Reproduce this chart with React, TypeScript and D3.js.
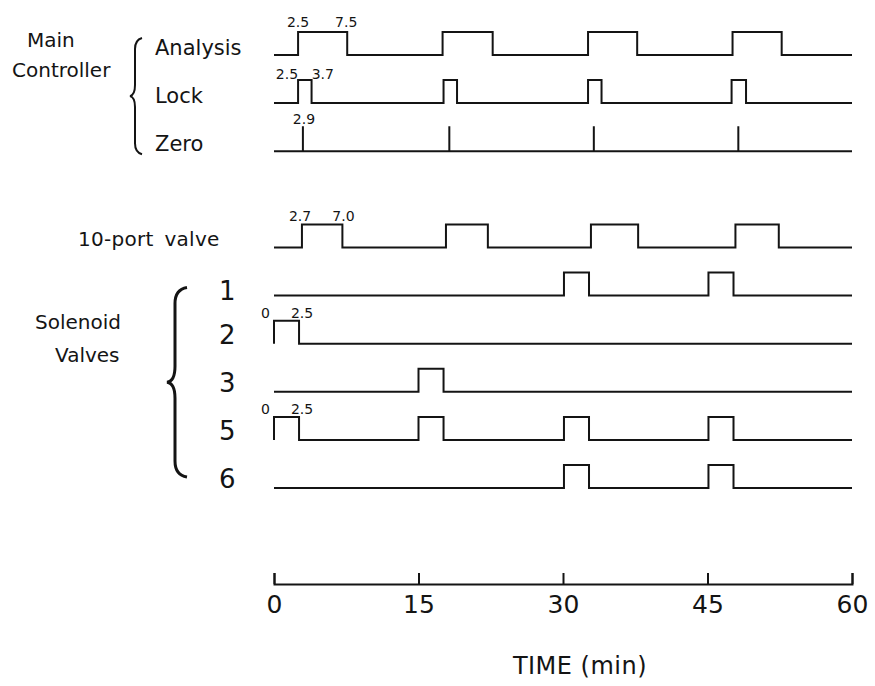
import React, { useEffect, useRef } from "react";
import * as d3 from "d3";

// rows of the timing diagram, top to bottom ("" is the empty gap row)
const rowNames = ["Analysis", "Lock", "Zero", "", "10-port valve", "1", "2", "3", "5", "6"];

// pulse windows (min)
const analysisPulses = [[2.5, 7.6], [17.5, 22.7], [32.6, 37.7], [47.6, 52.7]];
const lockPulses = [[2.5, 3.9], [17.6, 19.0], [32.6, 34.0], [47.5, 49.0]];
const zeroSpikes = [3.0, 18.2, 33.2, 48.2];
const valvePulses = [[2.9, 7.1], [17.85, 22.2], [32.9, 37.8], [47.9, 52.4]];
const sol1Pulses = [[30.1, 32.7], [45.1, 47.7]];
const sol2Pulses = [[0, 2.6]];
const sol3Pulses = [[15, 17.6]];
const sol5Pulses = [[0, 2.6], [15, 17.6], [30.1, 32.7], [45.1, 47.7]];
const sol6Pulses = [[30.1, 32.7], [45.1, 47.7]];

// small time annotations written above the first pulses
const analysisMarks = [{ t: 2.5, text: "2.5" }, { t: 7.5, text: "7.5" }];
const lockMarks = [{ t: 2.5, text: "2.5" }, { t: 3.7, text: "3.7" }];
const zeroMarks = [{ t: 2.9, text: "2.9" }];
const valveMarks = [{ t: 2.7, text: "2.7" }, { t: 7.0, text: "7.0" }];
const sol2Marks = [{ t: 0, text: "0" }, { t: 2.5, text: "2.5" }];
const sol5Marks = [{ t: 0, text: "0" }, { t: 2.5, text: "2.5" }];

const timeTicks = [0, 15, 30, 45, 60];

const FONT = "'DejaVu Sans', sans-serif";
const INK = "#141414";

const App = () => {
  const ref = useRef<SVGSVGElement>(null);

  useEffect(() => {
    const svg = d3.select(ref.current);
    svg.selectAll("*").remove();

    const x = d3.scaleLinear().domain([0, 60]).range([274, 852]);
    const y = d3.scalePoint().domain(rowNames).range([55, 488]);
    const pulseH = 23;

    const pulsePath = (pulses: number[][], base: number) => {
      const p = d3.path();
      p.moveTo(x(0), base);
      pulses.forEach(([a, b]) => {
        p.lineTo(x(a), base);
        p.lineTo(x(a), base - pulseH);
        p.lineTo(x(b), base - pulseH);
        p.lineTo(x(b), base);
      });
      p.lineTo(x(60), base);
      return p.toString();
    };

    const spikePath = (spikes: number[], base: number) => {
      const p = d3.path();
      p.moveTo(x(0), base);
      spikes.forEach((s) => {
        p.lineTo(x(s), base);
        p.lineTo(x(s), base - 25);
        p.lineTo(x(s), base);
      });
      p.lineTo(x(60), base);
      return p.toString();
    };

    const signals: [string, number[][]][] = [
      ["Analysis", analysisPulses],
      ["Lock", lockPulses],
      ["10-port valve", valvePulses],
      ["1", sol1Pulses],
      ["2", sol2Pulses],
      ["3", sol3Pulses],
      ["5", sol5Pulses],
      ["6", sol6Pulses],
    ];

    const g = svg.append("g");

    g.selectAll(".signal")
      .data(signals)
      .join("path")
      .attr("class", "signal")
      .attr("d", ([name, pulses]) => pulsePath(pulses, y(name)!))
      .attr("fill", "none")
      .attr("stroke", INK)
      .attr("stroke-width", 2)
      .attr("stroke-linejoin", "miter");

    g.append("path")
      .attr("d", spikePath(zeroSpikes, y("Zero")!))
      .attr("fill", "none")
      .attr("stroke", INK)
      .attr("stroke-width", 2);

    // row labels
    const textRows = ["Analysis", "Lock", "Zero"];
    g.selectAll(".rowlabel")
      .data(textRows)
      .join("text")
      .attr("class", "rowlabel")
      .attr("x", 155)
      .attr("y", (d) => y(d)!)
      .attr("font-size", 21)
      .text((d) => d);

    g.append("text")
      .attr("x", 78)
      .attr("y", y("10-port valve")! - 1)
      .attr("font-size", 20)
      .attr("letter-spacing", 0.3)
      .attr("word-spacing", 4)
      .text("10-port valve");

    const numRows = ["1", "2", "3", "5", "6"];
    g.selectAll(".numlabel")
      .data(numRows)
      .join("text")
      .attr("class", "numlabel")
      .attr("x", 219)
      .attr("y", (d) => y(d)! + (d === "1" ? 4 : 0))
      .attr("font-size", 26)
      .text((d) => d);

    // group labels
    g.append("text").attr("x", 27).attr("y", 47).attr("font-size", 20).text("Main");
    g.append("text").attr("x", 12).attr("y", 77).attr("font-size", 20).text("Controller");
    g.append("text").attr("x", 35).attr("y", 329).attr("font-size", 20).text("Solenoid");
    g.append("text").attr("x", 55).attr("y", 362).attr("font-size", 20).text("Valves");

    // braces
    const brace = (tipX: number, spineX: number, endX: number, y0: number, y1: number, r: number) => {
      const ym = (y0 + y1) / 2;
      const p = d3.path();
      p.moveTo(endX, y0);
      p.quadraticCurveTo(spineX, y0 + 2, spineX, y0 + r);
      p.lineTo(spineX, ym - r);
      p.quadraticCurveTo(spineX, ym - 1, tipX, ym);
      p.quadraticCurveTo(spineX, ym + 1, spineX, ym + r);
      p.lineTo(spineX, y1 - r);
      p.quadraticCurveTo(spineX, y1 - 2, endX, y1);
      return p.toString();
    };
    g.append("path")
      .attr("d", brace(130, 135, 142, y("Analysis")! - 17, y("Zero")! + 3, 11))
      .attr("fill", "none")
      .attr("stroke", INK)
      .attr("stroke-width", 2);
    g.append("path")
      .attr("d", brace(167, 175, 187, y("1")! - 8, y("6")! - 11, 16))
      .attr("fill", "none")
      .attr("stroke", INK)
      .attr("stroke-width", 3);

    // pulse annotations
    const mark = (
      marks: { t: number; text: string }[],
      base: number,
      place: (m: { t: number; text: string }, i: number) => [number, string]
    ) => {
      marks.forEach((m, i) => {
        const [dx, anchor] = place(m, i);
        g.append("text")
          .attr("x", x(m.t) + dx)
          .attr("y", base)
          .attr("text-anchor", anchor)
          .attr("font-size", 14)
          .text(m.text);
      });
    };
    mark(analysisMarks, y("Analysis")! - pulseH - 5, () => [0, "middle"]);
    mark(lockMarks, y("Lock")! - pulseH - 1, (_, i) => (i === 0 ? [0, "end"] : [2, "start"]));
    mark(zeroMarks, y("Zero")! - 27, () => [2, "middle"]);
    mark(valveMarks, y("10-port valve")! - pulseH - 3, (_, i) => [i === 0 ? 0 : 2, "middle"]);
    mark(sol2Marks, y("2")! - pulseH - 3, (_, i) => (i === 0 ? [-4, "end"] : [4, "middle"]));
    mark(sol5Marks, y("5")! - pulseH - 3, (_, i) => (i === 0 ? [-4, "end"] : [4, "middle"]));

    // time axis, ticks pointing up
    const axis = d3
      .axisBottom(x)
      .tickValues(timeTicks)
      .tickSize(-11)
      .tickPadding(11)
      .tickFormat(d3.format("d"));
    const ax = svg
      .append("g")
      .attr("transform", "translate(0,584)")
      .call(axis);
    ax.select(".domain").attr("stroke", INK).attr("stroke-width", 2);
    ax.selectAll(".tick line").attr("stroke", INK).attr("stroke-width", 2);
    ax.selectAll(".tick text")
      .attr("font-family", FONT)
      .attr("font-size", 25)
      .attr("fill", INK);

    svg
      .append("text")
      .attr("x", 580)
      .attr("y", 674)
      .attr("text-anchor", "middle")
      .attr("font-size", 24)
      .attr("letter-spacing", 0.5)
      .text("TIME (min)");

    svg.selectAll("text").attr("fill", INK);
  }, []);

  return (
    <svg
      ref={ref}
      width={875}
      height={686}
      viewBox="0 0 875 686"
      fontFamily={FONT}
      style={{ position: "absolute", left: 0, top: 0, background: "#fff" }}
    />
  );
};

export default App;
